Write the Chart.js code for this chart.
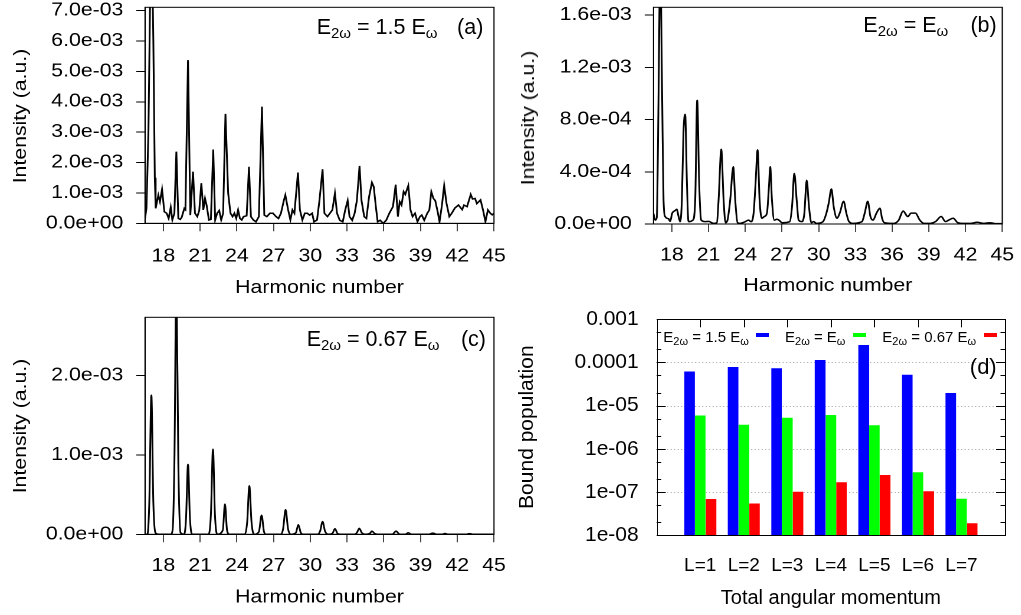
<!DOCTYPE html>
<html>
<head>
<meta charset="utf-8">
<script src="https://cdn.jsdelivr.net/npm/chart.js@4.4.1/dist/chart.umd.min.js"></script>
<style>
  html, body { margin: 0; padding: 0; background: #fff; }
  body { width: 1021px; height: 615px; position: relative; overflow: hidden;
         font-family: "Liberation Sans", Arial, sans-serif; color: #000; }
  .panel { position: absolute; transform-origin: 0 0; }
  .note { position: absolute; white-space: nowrap; line-height: 1; }
  .note sub { line-height: 0; }
  .big { font-size: 21.5px; }
  .big sub { font-size: 15px; vertical-align: -3.7px; }
  .leg { font-size: 15px; }
  .leg sub { font-size: 11px; vertical-align: -3px; }
  .ytitle { position: absolute; white-space: nowrap; line-height: 1; font-size: 18px;
            transform: translate(-50%, -50%) rotate(-90deg) scaleX(1.18); }
  .swatch { position: absolute; width: 12.5px; height: 3.5px; }
</style>
</head>
<body>

<div class="panel" id="wrapA"><canvas id="chartA"></canvas></div>
<div class="panel" id="wrapB"><canvas id="chartB"></canvas></div>
<div class="panel" id="wrapC"><canvas id="chartC"></canvas></div>
<div class="panel" id="wrapD"><canvas id="chartD"></canvas></div>

<!-- panel annotations -->
<div class="note big" style="left:316.7px;top:17.4px">E<sub>2ω</sub> = 1.5 E<sub>ω</sub></div>
<div class="note big" style="right:537.7px;top:17.4px">(a)</div>
<div class="note big" style="left:863.3px;top:15.1px">E<sub>2ω</sub> = E<sub>ω</sub></div>
<div class="note big" style="right:24.3px;top:15.1px">(b)</div>
<div class="note big" style="left:306.7px;top:328.8px">E<sub>2ω</sub> = 0.67 E<sub>ω</sub></div>
<div class="note big" style="right:535px;top:328.8px">(c)</div>
<div class="note" style="right:24.3px;top:356.4px;font-size:22px">(d)</div>

<div class="ytitle" style="left:20px;top:116px">Intensity (a.u.)</div>
<div class="ytitle" style="left:528px;top:118px">Intensity (a.u.)</div>
<div class="ytitle" style="left:20px;top:426px">Intensity (a.u.)</div>

<!-- legend of panel (d) -->
<div class="note leg" style="left:663.3px;top:329px">E<sub>2ω</sub> = 1.5 E<sub>ω</sub></div>
<div class="swatch" style="left:756px;top:333px;background:#0000ff"></div>
<div class="note leg" style="left:785px;top:329px">E<sub>2ω</sub> = E<sub>ω</sub></div>
<div class="swatch" style="left:853.3px;top:333px;background:#00ff00"></div>
<div class="note leg" style="left:882.3px;top:329px">E<sub>2ω</sub> = 0.67 E<sub>ω</sub></div>
<div class="swatch" style="left:984px;top:333px;background:#ff0000"></div>

<script>
// ---- harmonic spectra ----
// panel (a), E2w = 1.5 Ew, intensity in units of 1e-3
const harmonicsA = [16.50,16.62,16.78,16.92,17.05,17.18,17.30,17.37,17.59,17.72,17.89,18.08,18.27,18.43,18.60,18.73,18.90,19.06,19.22,19.38,
  19.50,19.71,19.80,20.01,20.20,20.42,20.58,20.77,20.93,21.10,21.26,21.40,21.53,21.72,21.88,22.07,22.23,22.39,22.56,22.72,
  22.88,23.07,23.29,23.48,23.65,23.80,23.95,24.10,24.25,24.40,24.55,24.80,24.99,25.15,25.35,25.56,25.80,26.05,26.24,26.45,
  26.70,26.95,27.20,27.40,27.60,27.85,27.96,28.18,28.37,28.54,28.70,28.99,29.15,29.35,29.55,29.75,29.95,30.15,30.30,30.55,
  30.75,31.00,31.15,31.40,31.60,31.80,32.01,32.18,32.40,32.65,32.85,33.05,33.20,33.42,33.62,33.80,34.02,34.18,34.40,34.58,
  34.80,35.03,35.18,35.35,35.50,35.70,35.95,36.20,36.45,36.75,36.97,37.15,37.30,37.45,37.62,37.75,38.00,38.18,38.35,38.55,
  38.75,38.95,39.10,39.30,39.55,39.72,39.88,40.05,40.20,40.40,40.55,40.75,40.93,41.12,41.35,41.55,41.80,42.10,42.40,42.55,
  42.80,43.10,43.25,43.45,43.60,43.90,44.10,44.30,44.50,44.70,44.85,45.00];
const intensityA = [0.16,0.5,3.0,7.5,9.5,6.0,1.5,0.49,0.93,0.71,1.12,0.38,0.33,0.16,0.53,0.11,0.33,2.36,0.16,0.13,
  0.20,0.49,0.45,5.37,0.27,1.70,0.33,0.22,0.42,1.32,0.44,0.82,0.60,0.11,0.13,2.43,0.11,0.33,0.42,0.11,
  0.33,3.60,0.99,0.33,0.22,0.33,0.16,0.44,0.16,0.11,0.22,0.25,1.86,0.22,0.11,0.05,0.22,3.84,0.27,0.22,
  0.33,0.33,0.22,0.16,0.33,0.77,0.93,0.46,0.11,0.44,0.33,1.67,0.44,0.11,0.33,0.33,0.27,0.33,0.05,0.11,
  0.77,1.78,0.33,0.22,0.33,0.44,0.99,0.33,0.10,0.05,0.44,0.75,0.22,0.10,0.33,0.75,1.89,0.75,0.22,0.16,
  0.88,1.34,1.20,0.55,0.05,0.10,0.00,0.10,0.33,0.55,1.27,0.22,0.71,0.60,1.04,0.95,1.24,0.44,0.22,0.33,
  0.05,0.22,0.27,0.10,0.33,0.44,1.04,0.82,0.75,0.38,0.05,0.60,1.24,0.66,0.22,0.33,0.50,0.60,0.45,0.60,
  0.55,0.95,0.80,0.82,0.65,0.77,0.44,0.05,0.44,0.33,0.28,0.33];

// panel (b), E2w = Ew, intensity in units of 1e-4
const harmonicsB = [16.50,16.64,16.77,16.91,17.05,17.21,17.32,17.45,17.73,17.86,18.03,18.27,18.41,18.55,18.68,18.82,18.95,19.09,19.23,19.36,
  19.72,19.91,20.07,20.24,20.40,20.70,21.00,21.41,21.68,21.82,22.04,22.23,22.39,22.55,22.77,23.02,23.18,23.37,23.59,24.00,
  24.27,24.46,24.68,24.84,25.01,25.17,25.36,25.55,25.77,25.94,26.04,26.18,26.37,26.59,26.81,27.00,27.63,27.82,28.01,28.20,
  28.36,28.64,28.83,29.02,29.21,29.40,29.59,29.81,30.35,30.63,30.82,31.04,31.23,31.50,31.72,32.04,32.26,32.48,32.81,33.54,
  33.76,34.01,34.23,34.44,34.72,35.00,35.18,35.37,36.13,36.54,36.90,37.28,37.55,37.91,38.26,38.59,39.13,39.54,40.01,40.36,
  40.63,40.99,41.37,41.86,42.41,42.95,43.50,43.99,44.45,45.00];
const intensityB = [0.8,0.3,0.5,9.5,20,9.5,1.85,0.57,0.4,0.2,0.83,1.03,1.13,0.57,0.18,1.85,7.0,8.4,3.2,0.18,
  0.3,1.85,9.47,2.9,0.3,0.18,0.2,0.05,0.1,1.85,5.73,1.85,0.1,0.3,1.85,4.39,1.85,0.1,0.05,0.18,
  0.3,0.18,0.83,3.1,5.68,1.85,0.44,0.57,0.83,2.9,4.39,1.85,0.3,0.36,0.25,0.1,0.18,1.3,3.87,1.85,
  0.3,0.18,0.83,3.35,1.3,0.1,0.18,0.05,0.18,0.83,1.6,2.68,1.3,0.44,0.83,1.73,0.83,0.18,0.05,0.18,
  0.83,1.73,0.57,0.3,0.83,1.21,0.44,0.1,0.05,0.3,1.0,0.57,0.83,0.83,0.3,0.05,0.05,0.18,0.57,0.18,
  0.3,0.44,0.1,0.05,0.05,0.13,0.05,0.10,0.03,0.03];

// panel (c), E2w = 0.67 Ew, intensity in units of 1e-3
const harmonicsC = [16.50,16.70,16.85,17.02,17.18,17.35,17.60,18.60,18.75,18.90,19.06,19.22,19.40,19.70,19.85,20.01,20.17,20.35,21.70,21.88,
  22.05,22.21,22.40,22.85,23.03,23.20,23.40,24.65,24.84,25.02,25.20,25.40,25.80,26.02,26.22,26.40,27.60,27.78,27.98,28.18,
  28.40,28.82,29.02,29.22,29.40,30.60,30.80,31.00,31.20,31.45,31.80,32.01,32.22,32.45,33.65,33.80,34.00,34.20,34.45,34.85,
  35.03,35.25,35.50,36.70,37.00,37.30,37.75,38.00,38.25,39.70,40.00,40.30,40.75,41.00,41.25,42.70,43.00,43.30,45.00];
const intensityC = [0,0,0.4,1.75,0.4,0.02,0,0,0.05,0.9,3.2,0.9,0.02,0,0.2,0.88,0.2,0,0,0.25,
  1.07,0.25,0,0.05,0.38,0.05,0,0,0.15,0.61,0.15,0,0.03,0.24,0.03,0,0,0.07,0.31,0.07,
  0,0.02,0.12,0.02,0,0,0.04,0.16,0.04,0,0.01,0.07,0.01,0,0,0.02,0.075,0.02,0,0.01,
  0.04,0.01,0,0,0.04,0,0,0.02,0,0,0.015,0,0,0.01,0,0,0.008,0,0];

const harmonicTicks = [18, 21, 24, 27, 30, 33, 36, 39, 42, 45];
const ticksA = [0, 1e-3, 2e-3, 3e-3, 4e-3, 5e-3, 6e-3, 7e-3];
const ticksB = [0, 4e-4, 8e-4, 1.2e-3, 1.6e-3];
const ticksC = [0, 1e-3, 2e-3];

// ---- bound populations, panel (d) ----
const angularLabels = ['L=1', 'L=2', 'L=3', 'L=4', 'L=5', 'L=6', 'L=7'];
const popStrong = [6.2e-5, 7.85e-5, 7.3e-5, 1.14e-4, 2.54e-4, 5.2e-5, 1.96e-5];   // E2w = 1.5 Ew
const popEqual  = [5.85e-6, 3.6e-6, 5.25e-6, 6.05e-6, 3.48e-6, 2.84e-7, 6.95e-8]; // E2w = Ew
const popWeak   = [6.8e-8, 5.4e-8, 1.0e-7, 1.66e-7, 2.46e-7, 1.03e-7, 1.86e-8];   // E2w = 0.67 Ew
const popTicks = [1e-8, 1e-7, 1e-6, 1e-5, 1e-4, 1e-3];
const popTickLabels = ['1e-08', '1e-07', '1e-06', '1e-05', '0.0001', '0.001'];

const stretch = 1.18; // the spectra panels are drawn wide
const fontAxis = {family: 'Liberation Sans', size: 18};

// 1.0e-03 style labels
function sciLabel(v) {
  if (v === 0) return '0.0e+00';
  const e = Math.floor(Math.log10(Math.abs(v)) + 1e-9);
  const m = v / Math.pow(10, e);
  return m.toFixed(1) + 'e' + (e < 0 ? '-' : '+') + String(Math.abs(e)).padStart(2, '0');
}

// box round the plot area (top and right sides)
const framePlugin = {
  id: 'frame',
  afterDatasetsDraw(chart) {
    const a = chart.chartArea, ctx = chart.ctx;
    ctx.save();
    ctx.strokeStyle = '#000';
    ctx.lineWidth = 1;
    ctx.strokeRect(a.left, a.top, a.right - a.left, a.bottom - a.top);
    ctx.restore();
  }
};

function spectrum(id, box, xs, ys, unit, yMax, yTicks, smooth) {
  const wrap = document.getElementById('wrap' + id);
  wrap.style.left = box.left + 'px';
  wrap.style.top = box.top + 'px';
  wrap.style.width = (box.width / stretch) + 'px';
  wrap.style.height = box.height + 'px';
  wrap.style.transform = 'scaleX(' + stretch + ')';

  const points = xs.map((x, i) => ({x: x, y: ys[i] * unit}));

  new Chart(document.getElementById('chart' + id), {
    type: 'line',
    data: {
      datasets: [{
        data: points,
        borderColor: '#000',
        borderWidth: 1.5,
        pointRadius: 0,
        fill: false,
        tension: 0,
        cubicInterpolationMode: smooth ? 'monotone' : 'default'
      }]
    },
    options: {
      responsive: true,
      maintainAspectRatio: false,
      animation: false,
      devicePixelRatio: 2,
      events: [],
      layout: {padding: {left: 0, top: box.plotTop, right: (box.width - box.plotRight) / stretch, bottom: 0}},
      plugins: {legend: {display: false}, tooltip: {enabled: false}},
      scales: {
        x: {
          type: 'linear', min: 16.5, max: 45,
          afterBuildTicks: s => { s.ticks = harmonicTicks.map(v => ({value: v})); },
          afterFit: s => { s.height = box.height - box.plotBottom; s.paddingLeft = 0; s.paddingRight = 0; },
          ticks: {autoSkip: false, maxRotation: 0, padding: box.xPad, color: '#000', font: fontAxis,
                  callback: v => String(v)},
          grid: {drawOnChartArea: false, drawTicks: true, tickLength: 8, color: '#444'},
          border: {display: true, color: '#000', width: 1},
          title: {display: true, text: 'Harmonic number', color: '#000', font: fontAxis,
                  padding: {top: 0, bottom: box.titlePad}}
        },
        y: {
          type: 'linear', min: 0, max: yMax,
          afterBuildTicks: s => { s.ticks = yTicks.map(v => ({value: v})); },
          afterFit: s => { s.width = box.plotLeft / stretch; s.paddingTop = 0; s.paddingBottom = 0; },
          ticks: {padding: box.yPad, color: '#000', font: fontAxis, callback: v => sciLabel(v)},
          grid: {drawOnChartArea: false, drawTicks: true, tickLength: 7.4, color: '#000'},
          border: {display: true, color: '#000', width: 1}
        }
      }
    },
    plugins: [framePlugin]
  });
}

spectrum('A', {left: 0, top: 0, width: 510, height: 300, plotLeft: 145, plotRight: 494, plotTop: 7.3, plotBottom: 223.3,
               xPad: 14.5, titlePad: 1.2, yPad: 11},
         harmonicsA, intensityA, 1e-3, 7.11e-3, ticksA, false);
spectrum('B', {left: 500, top: 0, width: 521, height: 300, plotLeft: 153.3, plotRight: 501.7, plotTop: 7.3, plotBottom: 224,
               xPad: 12.5, titlePad: 3.2, yPad: 11},
         harmonicsB, intensityB, 1e-4, 1.66e-3, ticksB, true);
spectrum('C', {left: 0, top: 300, width: 510, height: 315, plotLeft: 145, plotRight: 494, plotTop: 17.3, plotBottom: 234.3,
               xPad: 12.7, titlePad: 6.7, yPad: 11},
         harmonicsC, intensityC, 1e-3, 2.73e-3, ticksC, true);

// ---- panel (d): grouped bars on a log axis ----
const wrapD = document.getElementById('wrapD');
Object.assign(wrapD.style, {left: '500px', top: '300px', width: '521px', height: '315px'});

// gnuplot look: dotted grid, inward ticks on both sides, ticks on top
const gnuplotPlugin = {
  id: 'gnuplotFrame',
  beforeDatasetsDraw(chart) {
    const a = chart.chartArea, ctx = chart.ctx, y = chart.scales.y;
    ctx.save();
    ctx.strokeStyle = '#a0a0a0';
    ctx.lineWidth = 1;
    ctx.setLineDash([1, 2.5]);
    popTicks.slice(1, -1).forEach(v => {
      const py = Math.round(y.getPixelForValue(v)) + 0.5;
      ctx.beginPath(); ctx.moveTo(a.left, py); ctx.lineTo(a.right, py); ctx.stroke();
    });
    ctx.restore();
  },
  afterDatasetsDraw(chart) {
    const a = chart.chartArea, ctx = chart.ctx, x = chart.scales.x, y = chart.scales.y;
    ctx.save();
    ctx.strokeStyle = '#000';
    ctx.lineWidth = 1;
    ctx.strokeRect(Math.round(a.left) + 0.5, Math.round(a.top) + 0.5,
                   Math.round(a.right - a.left), Math.round(a.bottom - a.top));
    const tick = (v, len) => {
      const py = Math.round(y.getPixelForValue(v)) + 0.5;
      ctx.beginPath();
      ctx.moveTo(a.left, py); ctx.lineTo(a.left + len, py);
      ctx.moveTo(a.right, py); ctx.lineTo(a.right - len, py);
      ctx.stroke();
    };
    popTicks.forEach(v => tick(v, 9));
    popTicks.slice(0, -1).forEach(v => { tick(v * 2, 4.5); tick(v * 5, 4.5); });
    angularLabels.forEach((l, i) => {
      const px = Math.round(x.getPixelForValue(i + 1)) + 0.5;
      ctx.beginPath(); ctx.moveTo(px, a.top); ctx.lineTo(px, a.top + 8); ctx.stroke();
    });
    ctx.restore();
  }
};

const padCats = ['', ...angularLabels, ''];
const padData = arr => [null, ...arr, null];
const barStyle = {categoryPercentage: 0.736, barPercentage: 1, borderWidth: 0};

new Chart(document.getElementById('chartD'), {
  type: 'bar',
  data: {
    labels: padCats,
    datasets: [
      Object.assign({label: 'E2w = 1.5 Ew', data: padData(popStrong), backgroundColor: '#0000ff'}, barStyle),
      Object.assign({label: 'E2w = Ew', data: padData(popEqual), backgroundColor: '#00ff00'}, barStyle),
      Object.assign({label: 'E2w = 0.67 Ew', data: padData(popWeak), backgroundColor: '#ff0000'}, barStyle)
    ]
  },
  options: {
    responsive: true,
    maintainAspectRatio: false,
    animation: false,
    events: [],
    layout: {padding: {left: 0, top: 19.3, right: 16, bottom: 0}},
    plugins: {legend: {display: false}, tooltip: {enabled: false}},
    scales: {
      x: {
        type: 'category', offset: false,
        afterFit: s => { s.height = 80; s.paddingLeft = 0; s.paddingRight = 0; },
        ticks: {autoSkip: false, maxRotation: 0, padding: 11.4, color: '#000',
                font: {family: 'Liberation Sans', size: 19}},
        grid: {display: false, offset: false},
        border: {display: false},
        title: {display: true, text: 'Total angular momentum', color: '#000',
                font: {family: 'Liberation Sans', size: 20}, padding: {top: 0, bottom: 4.7}}
      },
      y: {
        type: 'logarithmic', min: 1e-8, max: 1e-3,
        afterBuildTicks: s => { s.ticks = popTicks.map(v => ({value: v})); },
        afterFit: s => { s.width = 156.7; s.paddingTop = 0; s.paddingBottom = 0; },
        ticks: {padding: 10, color: '#000', font: {family: 'Liberation Sans', size: 21},
                callback: (v, i) => popTickLabels[i]},
        grid: {display: false},
        border: {display: false},
        title: {display: true, text: 'Bound population', color: '#000',
                font: {family: 'Liberation Sans', size: 21}, padding: {top: 14.9, bottom: 0}}
      }
    }
  },
  plugins: [gnuplotPlugin]
});
</script>
</body>
</html>
